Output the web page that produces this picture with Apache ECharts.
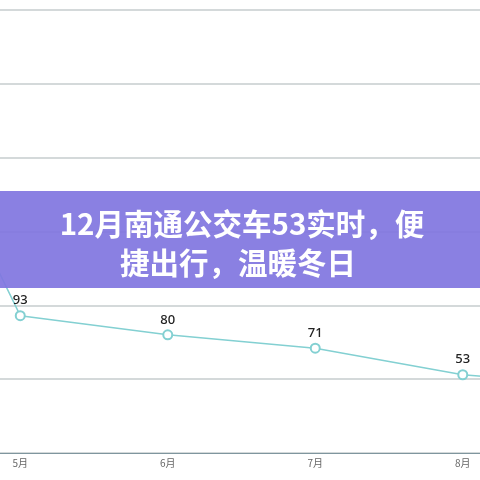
<!DOCTYPE html>
<html>
<head>
<meta charset="utf-8">
<style>
  html, body { margin: 0; padding: 0; background: #fff; overflow: hidden; width: 480px; height: 480px; }
  /* the chart is wider than the window: only 5月..8月 sit in view */
  #main { position: absolute; left: -201px; top: 0; width: 885px; height: 480px; }
</style>
<script src="https://cdn.jsdelivr.net/npm/echarts@6/dist/echarts.min.js"></script>
</head>
<body>
<div id="main"></div>
<script>
// months (4月 and 9月 fall outside the visible crop)
var months = ['4月', '5月', '6月', '7月', '8月', '9月'];
var riders = [298, 93, 80, 71, 53, 45];
var yTicks = [0, 50, 100, 150, 200, 250, 300];
var titleLines = ['12月南通公交车53实时，便', '捷出行，温暖冬日'];

var offsetX = 201; // where the window's left edge sits inside the chart

var myChart = echarts.init(document.getElementById('main'));

var option = {
    backgroundColor: '#ffffff',
    animation: false,
    grid: {
        left: 0,
        right: 0,
        top: 10,
        bottom: 27
    },
    xAxis: {
        type: 'category',
        data: months,
        boundaryGap: true,
        axisLine: { lineStyle: { color: '#7f969e', width: 1.2 } },
        axisTick: { length: 4, lineStyle: { color: '#7f969e' } },
        axisLabel: { color: '#666', fontSize: 10, margin: 5, fontFamily: 'Noto Sans CJK SC' }
    },
    yAxis: {
        type: 'value',
        min: yTicks[0],
        max: yTicks[yTicks.length - 1],
        interval: 50,
        splitLine: { lineStyle: { color: '#c6cdce', width: 1.5 } },
        axisLabel: { show: false }
    },
    series: [{
        type: 'line',
        data: riders,
        smooth: false,
        symbol: 'emptyCircle',
        symbolSize: 9,
        lineStyle: { color: '#83d0d2', width: 1.5 },
        itemStyle: { color: '#83d0d2', borderWidth: 1.5 },
        label: {
            show: true,
            position: 'top',
            distance: 3,
            color: '#222',
            fontSize: 13,
            fontWeight: 500,
            fontFamily: 'Noto Sans'
        }
    }],
    graphic: [{
        type: 'rect',
        z: 100,
        shape: { x: offsetX, y: 191, width: 480, height: 97 },
        style: { fill: 'rgba(128,117,224,0.92)' }
    }, {
        type: 'text',
        z: 101,
        x: offsetX + 242,
        y: 224,
        style: {
            text: titleLines[0],
            fill: '#fff',
            font: 'bold 29.5px "Noto Sans CJK SC"',
            textAlign: 'center',
            textVerticalAlign: 'middle'
        }
    }, {
        type: 'text',
        z: 101,
        x: offsetX + 238,
        y: 263,
        style: {
            text: titleLines[1],
            fill: '#fff',
            font: 'bold 29.5px "Noto Sans CJK SC"',
            textAlign: 'center',
            textVerticalAlign: 'middle'
        }
    }]
};

myChart.setOption(option);
</script>
</body>
</html>
